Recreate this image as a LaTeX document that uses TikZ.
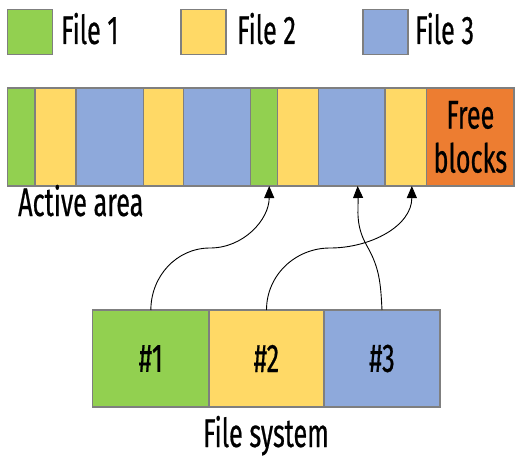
\documentclass[tikz,border=0pt]{standalone}
\usepackage{fontspec}
\setmainfont[FakeStretch=0.63,FakeBold=0.5]{Fira Sans}
\usetikzlibrary{arrows.meta}
\definecolor{fgreen}{HTML}{92D050}
\definecolor{fyellow}{HTML}{FFD966}
\definecolor{fblue}{HTML}{8EA9DB}
\definecolor{forange}{HTML}{ED7D31}
\definecolor{bgray}{HTML}{7F7F7F}
\begin{document}
\begin{tikzpicture}[x=1pt,y=-1pt,
  cell/.style={draw=bgray,line width=1.4pt,inner sep=0pt,outer sep=0pt,anchor=north west,minimum height=98pt},
  legbox/.style={draw=bgray,line width=1.4pt,inner sep=0pt,outer sep=0pt,anchor=north west,minimum width=45pt,minimum height=45pt},
  fsbox/.style={draw=bgray,line width=1.4pt,inner sep=0pt,outer sep=0pt,anchor=north west,minimum height=97pt},
  lbl/.style={font=\fontsize{40}{44}\selectfont,inner sep=0pt},
  link/.style={line width=0.9pt,-{Triangle[length=12pt,width=10pt]}}]
\useasboundingbox (0,0) rectangle (532,460);
% legend
\node[legbox,fill=fgreen] (l1) at (7.5,9.5) {};
\node[legbox,fill=fyellow] (l2) at (181,9.5) {};
\node[legbox,fill=fblue] (l3) at (363,9.5) {};
\node[lbl,anchor=base west] (t1) at (61,44) {File 1};
\node[lbl,anchor=base west] (t2) at (237,44) {File 2};
\node[lbl,anchor=base west] (t3) at (415,44) {File 3};
% active area
\node[cell,fill=fgreen,minimum width=27.7pt] (c1) at (7.3,88) {};
\node[cell,fill=fyellow,minimum width=41pt] (c2) at (35,88) {};
\node[cell,fill=fblue,minimum width=67.3pt] (c3) at (76,88) {};
\node[cell,fill=fyellow,minimum width=40pt] (c4) at (143.3,88) {};
\node[cell,fill=fblue,minimum width=67.4pt] (c5) at (183.3,88) {};
\node[cell,fill=fgreen,minimum width=27pt] (c6) at (250.7,88) {};
\node[cell,fill=fyellow,minimum width=40.6pt] (c7) at (277.7,88) {};
\node[cell,fill=fblue,minimum width=66.7pt] (c8) at (318.3,88) {};
\node[cell,fill=fyellow,minimum width=41.7pt] (c9) at (385,88) {};
\node[cell,fill=forange,minimum width=87.3pt] (c10) at (426.7,88) {};
\node[lbl,align=center] (free) at (c10.center) {Free\\blocks};
\node[lbl,anchor=base west] (act) at (18,216) {Active area};
% file system
\node[fsbox,fill=fgreen,minimum width=116.3pt] (f1) at (92.7,310) {};
\node[fsbox,fill=fyellow,minimum width=115pt] (f2) at (209,310) {};
\node[fsbox,fill=fblue,minimum width=116pt] (f3) at (324,310) {};
\node[lbl] (n1) at (f1.center) {\#1};
\node[lbl] (n2) at (f2.center) {\#2};
\node[lbl] (n3) at (f3.center) {\#3};
\node[lbl,anchor=base] (fs) at (266,447) {File system};
% links
\coordinate (m1) at (210,248);
\coordinate (m2) at (330,248);
\coordinate (m3) at (367,246);
\draw[link] (f1.north) to[out=90,in=180] (m1) to[out=0,in=-90] ([xshift=5pt]c6.south);
\draw[link] (f2.north) to[out=90,in=180] (m2) to[out=0,in=-90] ([xshift=6pt]c9.south);
\draw[link] (f3.north) to[out=93,in=-60] (m3) to[out=120,in=-88] ([xshift=6pt]c8.south);
\end{tikzpicture}
\end{document}
